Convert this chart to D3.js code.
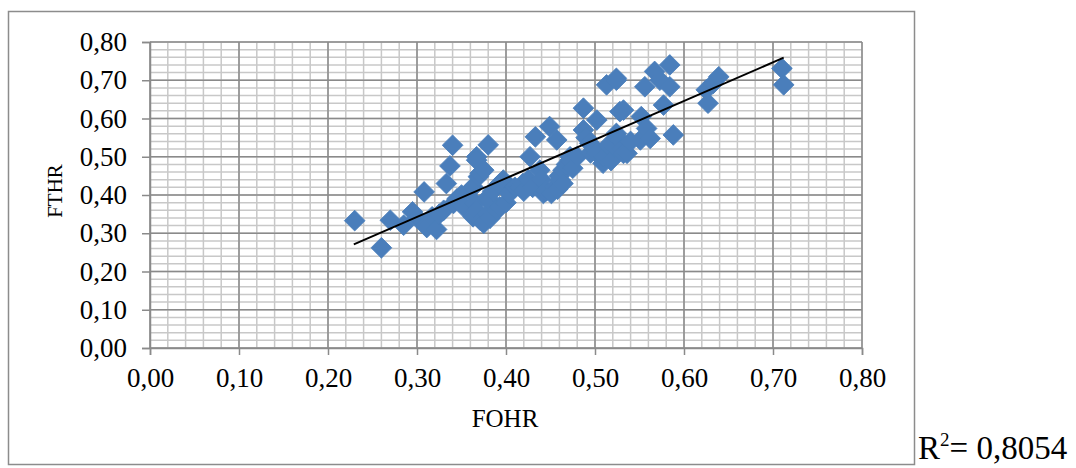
<!DOCTYPE html>
<html lang="en">

<head>
  <meta charset="UTF-8">
  <title>FOHR / FTHR</title>
  <script src="https://d3js.org/d3.v7.min.js"></script>
  <style>
    body {
      margin: 0;
      background: #fff;
    }

    svg {
      display: block;
      font-family: "Liberation Serif", "Times New Roman", serif;
    }
  </style>
</head>

<body>
  <div id="chart"></div>

  <script>
    const fohr = [0.23, 0.26, 0.27, 0.285, 0.295, 0.30, 0.308, 0.31, 0.311, 0.317, 0.322, 0.325, 0.33, 0.333, 0.337,
      0.34, 0.341, 0.345, 0.35, 0.352, 0.36, 0.363, 0.363, 0.365, 0.367, 0.367, 0.367, 0.369, 0.371, 0.371,
      0.375, 0.375, 0.378, 0.38, 0.38, 0.382, 0.382, 0.385, 0.39, 0.393, 0.393, 0.397, 0.40, 0.404, 0.41,
      0.416, 0.419, 0.42, 0.425, 0.427, 0.43, 0.433, 0.438, 0.44, 0.442, 0.445, 0.449, 0.451, 0.455, 0.457,
      0.458, 0.46, 0.461, 0.464, 0.464, 0.468, 0.472, 0.472, 0.475, 0.48, 0.487, 0.487, 0.49, 0.494, 0.495,
      0.50, 0.502, 0.502, 0.509, 0.51, 0.513, 0.515, 0.518, 0.522, 0.524, 0.524, 0.524, 0.528, 0.528, 0.53,
      0.532, 0.532, 0.536, 0.54, 0.551, 0.552, 0.556, 0.558, 0.562, 0.567, 0.573, 0.577, 0.584, 0.584, 0.588,
      0.625, 0.627, 0.633, 0.639, 0.71, 0.712]
    const fthr = [0.333, 0.262, 0.334, 0.321, 0.356, 0.34, 0.408, 0.321, 0.315, 0.343, 0.31, 0.35, 0.36, 0.43, 0.476,
      0.53, 0.378, 0.39, 0.40, 0.37, 0.413, 0.343, 0.421, 0.38, 0.50, 0.491, 0.36, 0.448, 0.457, 0.334,
      0.465, 0.326, 0.39, 0.531, 0.35, 0.339, 0.387, 0.41, 0.36, 0.369, 0.43, 0.439, 0.38, 0.404, 0.42,
      0.421, 0.43, 0.41, 0.44, 0.50, 0.42, 0.552, 0.465, 0.44, 0.404, 0.41, 0.579, 0.404, 0.42, 0.544,
      0.415, 0.45, 0.439, 0.465, 0.43, 0.48, 0.50, 0.491, 0.47, 0.50, 0.627, 0.57, 0.55, 0.535, 0.51,
      0.52, 0.596, 0.509, 0.483, 0.50, 0.688, 0.53, 0.49, 0.526, 0.705, 0.70, 0.561, 0.618, 0.544, 0.52,
      0.509, 0.622, 0.509, 0.54, 0.544, 0.605, 0.683, 0.574, 0.548, 0.723, 0.70, 0.635, 0.74, 0.683, 0.557,
      0.675, 0.64, 0.692, 0.709, 0.731, 0.688]

    // linear trend line end points
    const trendX = [0.229, 0.712]
    const trendY = [0.271, 0.759]
    const rSquared = "0,8054"

    const xTicks = [0, 0.1, 0.2, 0.3, 0.4, 0.5, 0.6, 0.7, 0.8]
    const yTicks = [0, 0.1, 0.2, 0.3, 0.4, 0.5, 0.6, 0.7, 0.8]
    const minorStep = 0.02

    const width = 1076
    const height = 468
    const margin = { left: 150, right: 214, top: 42, bottom: 120 }

    const svg = d3.select("#chart")
      .append("svg")
      .attr("width", width)
      .attr("height", height)

    // outer frame
    svg.append("rect")
      .attr("x", 8.5)
      .attr("y", 11.5)
      .attr("width", 906)
      .attr("height", 453)
      .attr("fill", "none")
      .attr("stroke", "#8c8c8c")
      .attr("stroke-width", 1.5)

    const x = d3.scaleLinear()
      .domain([0, 0.8])
      .range([margin.left, width - margin.right])

    const y = d3.scaleLinear()
      .domain([0, 0.8])
      .range([height - margin.bottom, margin.top])

    const comma = d3.formatLocale({ decimal: ",", thousands: " ", grouping: [3], currency: ["", ""] })
    const fmt = comma.format(".2f")

    const minor = d3.range(0, 0.8 + 1e-9, minorStep)

    const grid = svg.append("g")

    grid.selectAll(".vminor")
      .data(minor)
      .enter()
      .append("line")
      .attr("x1", d => x(d))
      .attr("x2", d => x(d))
      .attr("y1", y(0))
      .attr("y2", y(0.8))
      .attr("stroke", "#c8c8c8")
      .attr("stroke-width", 1.5)

    grid.selectAll(".hminor")
      .data(minor)
      .enter()
      .append("line")
      .attr("x1", x(0))
      .attr("x2", x(0.8))
      .attr("y1", d => y(d))
      .attr("y2", d => y(d))
      .attr("stroke", "#c8c8c8")
      .attr("stroke-width", 1.5)

    grid.selectAll(".vmajor")
      .data(xTicks)
      .enter()
      .append("line")
      .attr("x1", d => x(d))
      .attr("x2", d => x(d))
      .attr("y1", y(0))
      .attr("y2", y(0.8))
      .attr("stroke", "#8a8a8a")
      .attr("stroke-width", 1.5)

    grid.selectAll(".hmajor")
      .data(yTicks)
      .enter()
      .append("line")
      .attr("x1", x(0))
      .attr("x2", x(0.8))
      .attr("y1", d => y(d))
      .attr("y2", d => y(d))
      .attr("stroke", "#8a8a8a")
      .attr("stroke-width", 1.5)

    // axes
    const xAxis = svg.append("g")
      .attr("transform", `translate(0,${y(0)})`)
      .call(d3.axisBottom(x).tickValues(xTicks).tickFormat(fmt).tickSize(7).tickPadding(13))

    const yAxis = svg.append("g")
      .attr("transform", `translate(${x(0)},0)`)
      .call(d3.axisLeft(y).tickValues(yTicks).tickFormat(fmt).tickSize(8).tickPadding(15))

    for (const ax of [xAxis, yAxis]) {
      ax.select(".domain").attr("stroke", "#8a8a8a").attr("stroke-width", 1.5)
      ax.selectAll(".tick line").attr("stroke", "#8a8a8a").attr("stroke-width", 1.5)
      ax.selectAll(".tick text")
        .attr("fill", "#000")
        .style("font-family", '"Liberation Serif", serif')
        .style("font-size", "27px")
    }

    // points
    const points = fohr.map((v, i) => [v, fthr[i]])
    const diamond = d3.symbol().type(d3.symbolSquare).size(215)

    svg.append("g")
      .selectAll("path")
      .data(points)
      .enter()
      .append("path")
      .attr("d", diamond)
      .attr("transform", d => `translate(${x(d[0])},${y(d[1])}) rotate(45)`)
      .attr("fill", "#4a7ebb")
      .attr("stroke", "#4a7ebb")
      .attr("stroke-width", 0.8)

    // trend line
    svg.append("line")
      .attr("x1", x(trendX[0]))
      .attr("y1", y(trendY[0]))
      .attr("x2", x(trendX[1]))
      .attr("y2", y(trendY[1]))
      .attr("stroke", "#000")
      .attr("stroke-width", 2)

    // titles
    svg.append("text")
      .attr("x", 505)
      .attr("y", 427)
      .attr("text-anchor", "middle")
      .attr("font-size", "25px")
      .text("FOHR")

    svg.append("text")
      .attr("transform", "translate(62,191) rotate(-90)")
      .attr("text-anchor", "middle")
      .attr("font-size", "21px")
      .text("FTHR")

    const r2 = svg.append("text")
      .attr("x", 918)
      .attr("y", 459)
      .attr("font-size", "33px")
    r2.append("tspan").text("R")
    r2.append("tspan").attr("dy", -13).attr("font-size", "19px").text("2")
    r2.append("tspan").attr("dy", 13).text("= " + rSquared)
  </script>
</body>

</html>
